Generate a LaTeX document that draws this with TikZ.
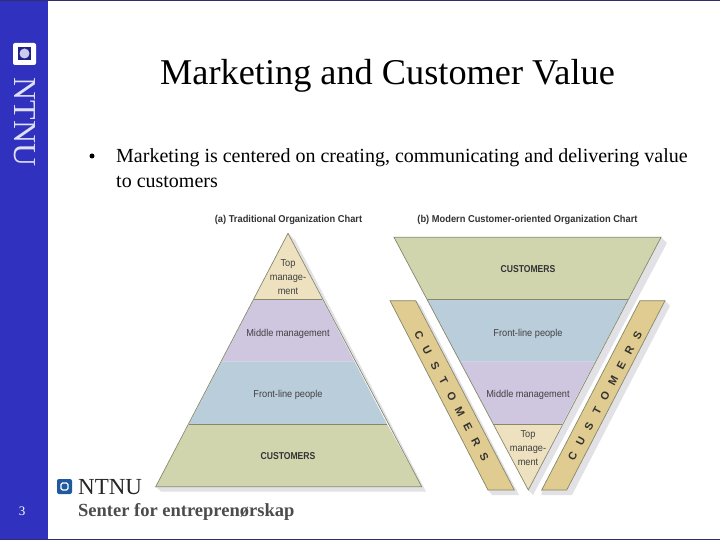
\documentclass[tikz,border=0pt]{standalone}
\usepackage{fontspec}
\setmainfont{Liberation Serif}
\setsansfont{Liberation Sans}
\definecolor{sidebar}{HTML}{3131BF}
\definecolor{frameline}{HTML}{2E2E70}
\definecolor{custgreen}{HTML}{D0D5AE}
\definecolor{frontblue}{HTML}{BACDDB}
\definecolor{midpurple}{HTML}{CFC6E0}
\definecolor{toptan}{HTML}{EDE1BF}
\definecolor{bandtan}{HTML}{E0CB90}
\definecolor{edgeline}{HTML}{85886A}
\definecolor{shadowgray}{HTML}{E2E2E6}
\definecolor{logoblue}{HTML}{1F5A9E}
\tikzset{
  layerline/.style={draw=edgeline,line width=0.7pt},
  lbl/.style={font=\sffamily\fontsize{10}{12}\selectfont,text=black!75,align=center,inner sep=0pt,xscale=.92},
  custlbl/.style={font=\sffamily\bfseries\fontsize{10}{12}\selectfont,text=black!80,inner sep=0pt,xscale=.86},
  headlbl/.style={font=\sffamily\bfseries\fontsize{10}{12}\selectfont,text=black!80,inner sep=0pt,xscale=.93},
  bandchar/.style={font=\sffamily\bfseries\fontsize{11}{12}\selectfont,text=black!80,inner sep=0pt},
}
\begin{document}
\begin{tikzpicture}[x=1pt,y=-1pt]
\useasboundingbox (0,0) rectangle (720,540);
\fill[white] (0,0) rectangle (720,540);
% frame and side bar
\fill[sidebar] (0,0) rectangle (48,540);
\fill[frameline] (0,0) rectangle (720,1);
\fill[frameline] (0,539) rectangle (720,540);
\fill[white,rounded corners=2pt] (13,43) rectangle (36,65);
\fill[sidebar!70!black] (18,47) rectangle (31,60);
\fill[white!75!sidebar] (24.5,53.5) circle (5);
\node[rotate=-90,text=white!85!sidebar,font=\fontsize{32}{32}\selectfont,inner sep=0pt] (sidelogo) at (24.5,122) {NTNU};
\node[text=white,font=\fontsize{13}{13}\selectfont,inner sep=0pt] (pagenum) at (22,511) {3};
% title and bullet
\node[font=\fontsize{36.3}{36}\selectfont,inner sep=0pt] (title) at (387.5,76) {Marketing and Customer Value};
\node[circle,fill=black,inner sep=0pt,minimum size=5pt] (bullet) at (92,156) {};
\node[anchor=west,font=\fontsize{20}{24}\selectfont,inner sep=0pt] (line1) at (116,158) {Marketing is centered on creating, communicating and delivering value};
\node[anchor=west,font=\fontsize{20}{24}\selectfont,inner sep=0pt] (line2) at (116,182) {to customers};
% left chart
\node[headlbl] (heada) at (288.5,220) {(a) Traditional Organization Chart};
\fill[shadowgray] (161,491.5) -- (426,491.5) -- (421.7,486.7) -- (155.7,486.7) -- cycle;
\fill[shadowgray] (421.7,486.7) -- (426,491.5) -- (295,240) -- (288,233.3) -- cycle;
\fill[toptan] (288,233.3) -- (254,299) -- (322,299) -- cycle;
\fill[midpurple] (254,299) -- (221.5,361.7) -- (354.5,361.7) -- (322,299) -- cycle;
\fill[frontblue] (221.5,361.7) -- (189,424) -- (387,424) -- (354.5,361.7) -- cycle;
\fill[custgreen] (189,424) -- (155.7,486.7) -- (421.7,486.7) -- (387,424) -- cycle;
\draw[layerline] (288,233.3) -- (155.7,486.7) -- (421.7,486.7) -- cycle;
\draw[layerline] (254,299) -- (322,299);
\draw[layerline] (189,424) -- (387,424);
\node[lbl] (topa) at (288,277) {Top\\[2pt]manage-\\[2pt]ment};
\node[lbl] (mida) at (288,333.5) {Middle management};
\node[lbl] (fronta) at (288,394.5) {Front-line people};
\node[custlbl] (custa) at (288,456.5) {CUSTOMERS};
% right chart
\node[headlbl] (headb) at (527.5,220) {(b) Modern Customer-oriented Organization Chart};
\fill[shadowgray] (661,237.3) -- (667,243) -- (533,495) -- (528.3,490) -- cycle;
\fill[custgreen] (394,237.3) -- (661,237.3) -- (628,299.3) -- (427,299.3) -- cycle;
\fill[frontblue] (427,299.3) -- (628,299.3) -- (595,361.7) -- (460,361.7) -- cycle;
\fill[midpurple] (460,361.7) -- (595,361.7) -- (562,424) -- (493.5,424) -- cycle;
\fill[toptan] (493.5,424) -- (562,424) -- (528.3,490) -- cycle;
\draw[layerline] (394,237.3) -- (661,237.3) -- (528.3,490) -- cycle;
\draw[layerline] (427,299.3) -- (628,299.3);
\draw[layerline] (493.5,424) -- (562,424);
\node[custlbl] (custb) at (528,269) {CUSTOMERS};
\node[lbl] (frontb) at (528,333.5) {Front-line people};
\node[lbl] (midb) at (528,395) {Middle management};
\node[lbl] (topb) at (528,448) {Top\\[2pt]manage-\\[2pt]ment};
% customer bands
\fill[shadowgray] (416,300.7) -- (421,306) -- (519,495) -- (514.3,490) -- cycle;
\fill[shadowgray] (488,490) -- (514.3,490) -- (519,495) -- (492,495) -- cycle;
\fill[shadowgray] (665,300.7) -- (670,306) -- (572,495) -- (541.7,495) -- (541.7,490) -- cycle;
\draw[layerline,fill=bandtan] (390,300.7) -- (415.7,300.7) -- (514.3,490) -- (488,490) -- cycle;
\draw[layerline,fill=bandtan] (640,300.7) -- (665,300.7) -- (566.7,490) -- (541.7,490) -- cycle;
\foreach \ch [count=\i from 0] in {C,U,S,T,O,M,E,R,S} {
  \node[bandchar,rotate=-62] (bl\i) at ({419+\i*8.15},{335.5+\i*15.2}) {\ch};
  \node[bandchar,rotate=62] (br\i) at ({572.7+\i*8.1},{456.7-\i*15.2}) {\ch};
}
% footer logo
\fill[logoblue,rounded corners=2pt] (57,479) rectangle (72,494);
\draw[white,line width=1.4pt,rounded corners=1.5pt] (61,483) rectangle (68,490);
\node[anchor=west,font=\fontsize{23}{23}\selectfont,text=black!85,inner sep=0pt] (logotext) at (78,487) {NTNU};
\node[anchor=west,font=\bfseries\fontsize{18.5}{20}\selectfont,text=black!70,inner sep=0pt] (center) at (78,512) {Senter for entreprenørskap};
\end{tikzpicture}
\end{document}
